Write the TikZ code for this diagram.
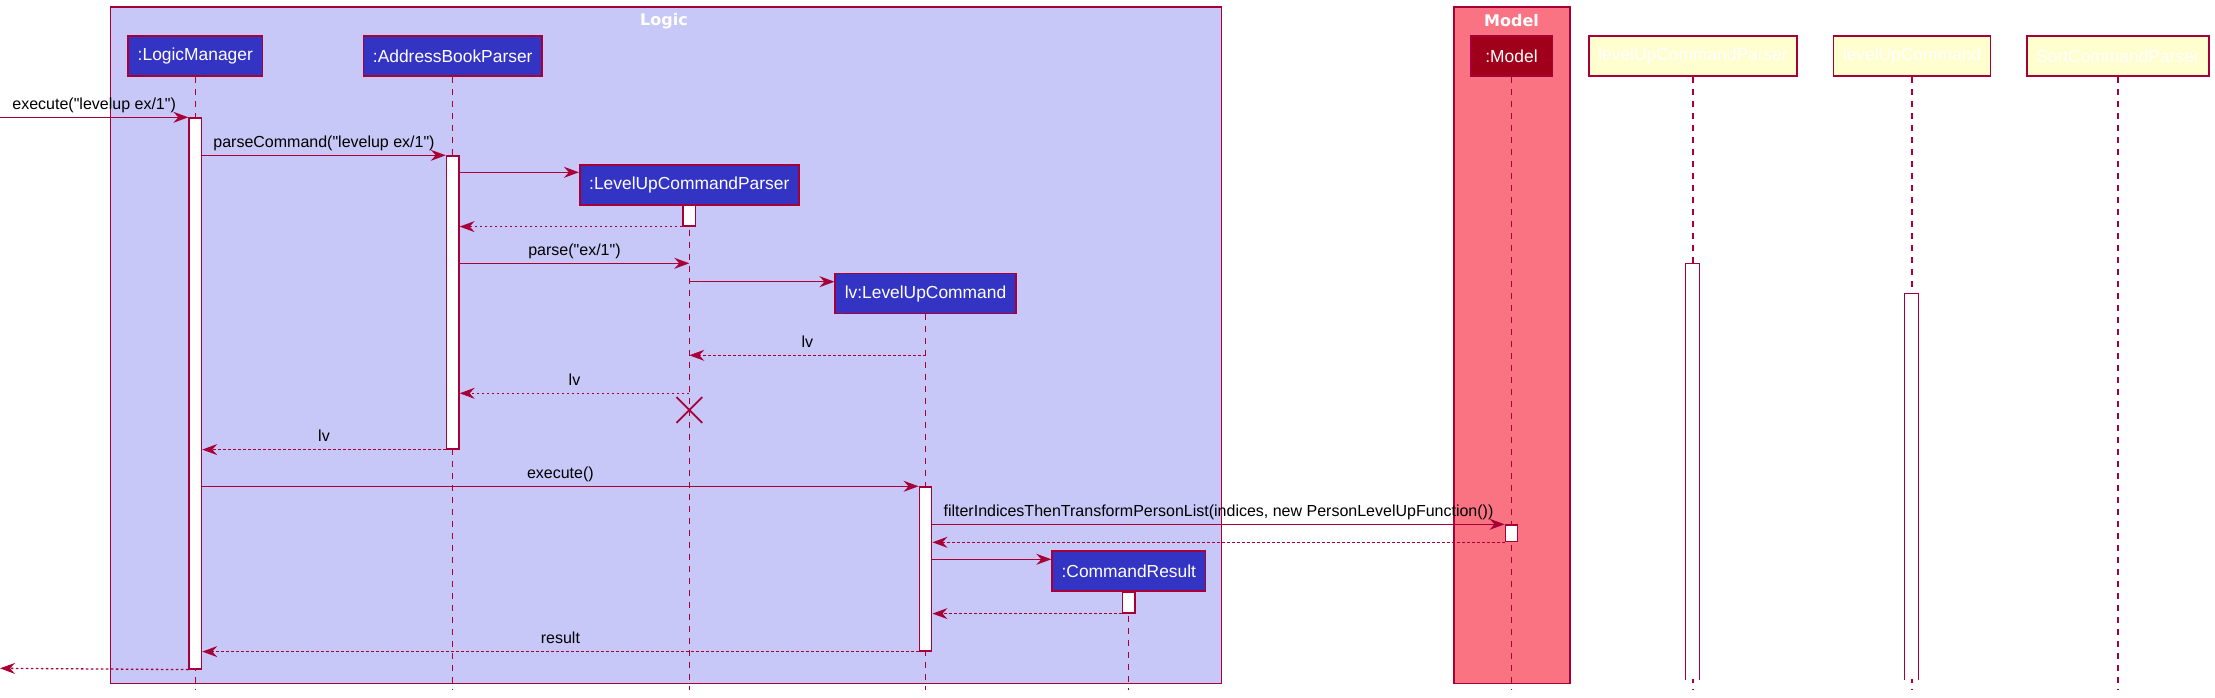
\documentclass[tikz,border=0pt]{standalone}
\usepackage{fontspec}
\setmainfont{Liberation Sans}[Ligatures=TeXOff]
\newfontfamily\titlefont{DejaVu Sans}[Ligatures=TeXOff]
\usepackage{tikz}
\usetikzlibrary{arrows.meta,shapes}
\definecolor{umlred}{HTML}{A80036}
\definecolor{logicbg}{HTML}{C8C8F8}
\definecolor{modelbg}{HTML}{F97383}
\definecolor{partblue}{HTML}{3333C4}
\definecolor{modeldark}{HTML}{A00019}
\definecolor{ghostyellow}{HTML}{FEFECE}
\tikzstyle{group}=[draw=umlred,line width=1.6pt]
\tikzstyle{grouptitle}=[text=white,font=\titlefont\bfseries\fontsize{16}{19}\selectfont]
\tikzstyle{participant}=[draw=umlred,line width=1.6pt,fill=partblue,text=white,font=\fontsize{17.4}{20}\selectfont,minimum height=40pt,inner xsep=9.5pt,inner ysep=0pt]
\tikzstyle{ghost}=[participant,fill=ghostyellow]
\tikzstyle{lifeline}=[draw=umlred,line width=1.3pt,dash pattern=on 6pt off 6pt]
\tikzstyle{act}=[draw=umlred,fill=white,line width=1.3pt,minimum width=12.6pt,inner sep=0pt,anchor=north]
\tikzstyle{msg}=[draw=umlred,line width=1.3pt,-{Stealth[length=15pt,width=11pt,inset=5pt]}]
\tikzstyle{ret}=[msg,dash pattern=on 2.5pt off 2.5pt]
\tikzstyle{msglabel}=[font=\fontsize{16}{19}\selectfont,text height=12pt,text depth=4pt,inner sep=0pt,above=3pt]

\begin{document}
\begin{tikzpicture}[x=1pt,y=-1pt]
    \useasboundingbox (0,0) rectangle (2215,698);
    % Draw the boxes round the participants
    \draw[group,fill=logicbg] (110.3,7.3) rectangle (1221.5,683.3);
    \draw[group,fill=modelbg] (1454.2,7.3) rectangle (1569.7,683.3);
    \node[grouptitle] (tLogic) at (664,20.7) {Logic};
    \node[grouptitle] (tModel) at (1511.5,20.7) {Model};
    % First we draw the participants
    \foreach \pos/\name/\txt in {{(195.3,56)/pLM/:LogicManager}, {(452.7,56)/pABP/:AddressBookParser},
                            {(689.3,184.7)/pLUCP/:LevelUpCommandParser}, {(925.5,293.5)/pLUC/lv:LevelUpCommand},
                            {(1128.8,571.2)/pCR/:CommandResult}}
        \node[participant] (\name) at \pos {\txt};
    \node[participant,fill=modeldark,minimum width=81.6pt] (pModel) at (1511.5,56) {:Model};
    \foreach \pos/\name/\txt in {{(1693,56)/hLUCP/levelUpCommandParser}, {(1912,56)/hLUC/levelUpCommand},
                            {(2118,56)/hSCP/SortCommandParser}}
        \node[ghost] (\name) at \pos {\txt};
    % Lifelines down to the bottom
    \coordinate (bottom) at (0,690);
    \foreach \name in {pLM,pABP,pLUCP,pLUC,pCR,pModel,hLUCP,hLUC,hSCP}
        \draw[lifeline] (\name.south) -- (\name.south |- bottom);
    % Activation bars
    \foreach \pos/\name/\h in {{(195.3,117.3)/aLM/551}, {(452.7,155.3)/aABP/293}, {(689.3,204.7)/aLUCP/20.6},
                            {(925.5,486.3)/aLUC/164}, {(1511.5,524.3)/aModel/16.7}, {(1128.8,591.7)/aCR/20.6}}
        \node[act,minimum height=\h pt] (\name) at \pos {};
    \foreach \pos/\name/\h in {{(1692.7,263.3)/hA1/415}, {(1911.7,293.3)/hA2/385}}
    {
        \node[act,draw=none,minimum height=\h pt] (\name) at \pos {};
        \draw[umlred,line width=1.3pt] (\name.south west) -- (\name.north west) -- (\name.north east) -- (\name.south east);
    }
    % Then the messages
    \coordinate (entry) at (0,117.3);
    \coordinate (exit) at (0,668.3);
    \coordinate (mCreateP) at (0,172.3);
    \coordinate (mParse) at (0,263.3);
    \coordinate (mCreateC) at (0,281.7);
    \coordinate (mLv1) at (0,355.3);
    \coordinate (mLv2) at (0,393.3);
    \coordinate (mKill) at (0,410);
    \coordinate (mCreateR) at (0,559.3);
    \draw[msg] (entry) -- node[msglabel] (lEntry) {execute("levelup ex/1")} (aLM.north west);
    \draw[msg] (aLM.east |- aABP.north) -- node[msglabel] (lParseCmd) {parseCommand("levelup ex/1")} (aABP.north west);
    \draw[msg] (aABP.east |- mCreateP) -- (pLUCP.west |- mCreateP);
    \draw[ret] (aLUCP.south west) -- (aABP.east |- aLUCP.south);
    \draw[msg] (aABP.east |- mParse) -- node[msglabel] (lParse) {parse("ex/1")} (pLUCP |- mParse);
    \draw[msg] (pLUCP |- mCreateC) -- (pLUC.west |- mCreateC);
    \draw[ret] (pLUC |- mLv1) -- node[msglabel] (lLv1) {lv} (pLUCP |- mLv1);
    \draw[ret] (pLUCP |- mLv2) -- node[msglabel] (lLv2) {lv} (aABP.east |- mLv2);
    \node[draw=umlred,cross out,line width=1.8pt,minimum size=24pt,inner sep=0pt] (xKill) at (pLUCP |- mKill) {};
    \draw[ret] (aABP.south west) -- node[msglabel] (lLv3) {lv} (aLM.east |- aABP.south);
    \draw[msg] (aLM.east |- aLUC.north) -- node[msglabel] (lExec) {execute()} (aLUC.north west);
    \draw[msg] (aLUC.east |- aModel.north) -- node[msglabel] (lFilter) {filterIndicesThenTransformPersonList(indices, new PersonLevelUpFunction())} (aModel.north west);
    \draw[ret] (aModel.south west) -- (aLUC.east |- aModel.south);
    \draw[msg] (aLUC.east |- mCreateR) -- (pCR.west |- mCreateR);
    \draw[ret] (aCR.south west) -- (aLUC.east |- aCR.south);
    \draw[ret] (aLUC.south west) -- node[msglabel] (lResult) {result} (aLM.east |- aLUC.south);
    \draw[ret] (aLM.south west) -- (exit);
\end{tikzpicture}
\end{document}
